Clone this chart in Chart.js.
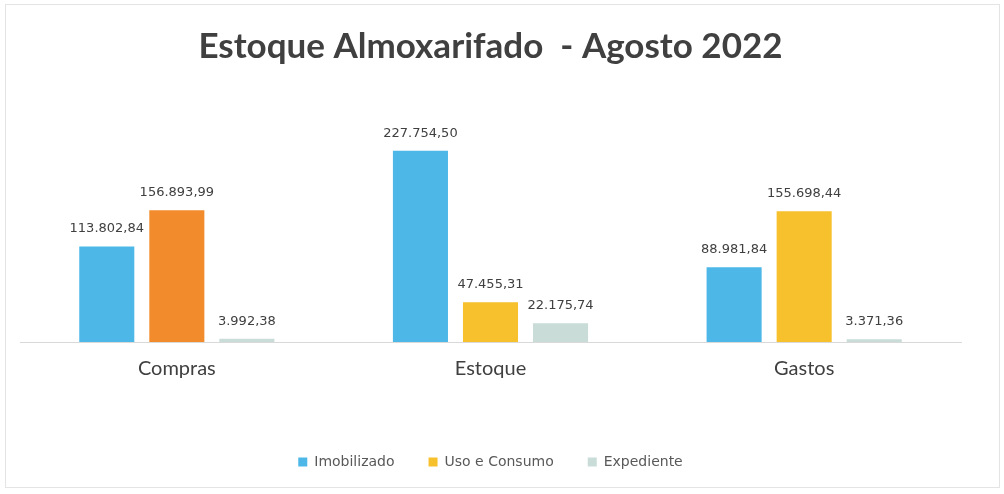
<!DOCTYPE html>
<html>
<head>
<meta charset="utf-8">
<script src="https://cdn.jsdelivr.net/npm/chart.js@4.4.0/dist/chart.umd.min.js"></script>
<style>
  html, body { margin: 0; padding: 0; background: #fff; }
  #wrap { position: relative; width: 1004px; height: 494px; }
  #frame { position: absolute; left: 5px; top: 4px; right: 4px; bottom: 6px; border: 1px solid #e4e4e4; pointer-events: none; }
</style>
</head>
<body>
<div id="wrap">
  <canvas id="chart" width="1004" height="494"></canvas>
  <div id="frame"></div>
</div>
<script>
const categories = ['Compras', 'Estoque', 'Gastos'];
const imobilizado = [113802.84, 227754.50, 88981.84];
const usoConsumo = [156893.99, 47455.31, 155698.44];
const expediente = [3992.38, 22175.74, 3371.36];

const blue = '#4db8e8';
const orange = '#f28b2b';
const yellow = '#f6c12c';
const gray = '#c9dcd8';

function formatBR(v) {
    let parts = v.toFixed(2).split('.');
    let int = parts[0].replace(/\B(?=(\d{3})+(?!\d))/g, '.');
    return int + ',' + parts[1];
}

// draw the value above each bar
const valueLabels = {
    id: 'valueLabels',
    afterDatasetsDraw(chart) {
        const ctx = chart.ctx;
        ctx.save();
        ctx.font = '13px "DejaVu Sans"';
        ctx.fillStyle = '#404040';
        ctx.textAlign = 'center';
        ctx.textBaseline = 'bottom';
        chart.data.datasets.forEach((ds, i) => {
            chart.getDatasetMeta(i).data.forEach((bar, j) => {
                ctx.fillText(formatBR(ds.data[j]), bar.x, bar.y - 11);
            });
        });
        ctx.restore();
    }
};

new Chart(document.querySelector('#chart').getContext('2d'), {
    type: 'bar',
    data: {
        labels: categories,
        datasets: [
            { label: 'Imobilizado', data: imobilizado, backgroundColor: blue },
            { label: 'Uso e Consumo', data: usoConsumo, backgroundColor: [orange, yellow, yellow] },
            { label: 'Expediente', data: expediente, backgroundColor: gray }
        ]
    },
    options: {
        responsive: false,
        animation: false,
        layout: { padding: { left: 20, right: 43, top: 12, bottom: 15 } },
        datasets: { bar: { barPercentage: 0.786, categoryPercentage: 0.67 } },
        scales: {
            x: {
                grid: { display: false },
                border: { display: true, color: '#d9d9d9' },
                ticks: { color: '#404040', font: { family: 'Lato', size: 20 }, padding: 7 },
                afterFit(scale) { scale.height = 79; }
            },
            y: { display: false, min: 0, max: 250000 }
        },
        plugins: {
            title: {
                display: true,
                text: 'Estoque Almoxarifado  - Agosto 2022',
                color: '#404040',
                font: { family: 'Lato', size: 35, weight: 'bold' },
                padding: { top: 14, bottom: 64 }
            },
            legend: {
                position: 'bottom',
                labels: {
                    boxWidth: 9,
                    boxHeight: 9,
                    padding: 34,
                    color: '#595959',
                    font: { family: 'DejaVu Sans', size: 14 },
                    generateLabels(chart) {
                        const items = Chart.defaults.plugins.legend.labels.generateLabels(chart);
                        const legendColors = [blue, yellow, gray];
                        items.forEach((it, i) => { it.fillStyle = legendColors[i]; it.strokeStyle = legendColors[i]; it.lineWidth = 0; });
                        return items;
                    }
                }
            },
            tooltip: { enabled: false }
        }
    },
    plugins: [valueLabels]
});
</script>
</body>
</html>
